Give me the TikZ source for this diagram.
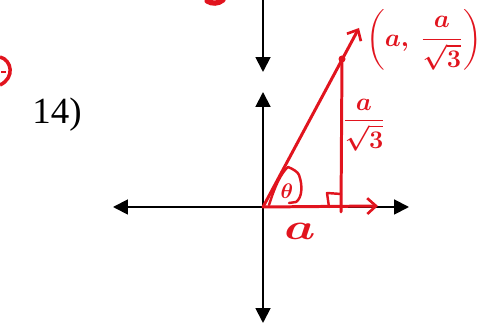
\documentclass[tikz,border=0pt]{standalone}
\usepackage{amsmath}
\usepackage{fontspec}
\setmainfont{Liberation Serif}
\usetikzlibrary{arrows.meta}
\definecolor{ink}{RGB}{225,20,30}
\begin{document}
\begin{tikzpicture}[x=0.02cm,y=-0.02cm,
  axis/.style={line width=1.1pt, black},
  tri/.tip={Triangle[length=8.5pt,width=8.5pt]},
  redline/.style={ink, line width=1.7pt, line cap=round, line join=round},
  thin red/.style={ink, line width=1.4pt, line cap=round, line join=round},
  handtext/.style={ink, inner sep=0pt},
  barb/.tip={Straight Barb[length=5pt,width=9pt,line width=1.5pt]}]
\useasboundingbox (0,0) rectangle (490,333);
% axes
\coordinate (O) at (263,207);
\coordinate (ytop) at (263,-2);
\coordinate (ydn) at (263,72);
\coordinate (yup) at (263,92);
\coordinate (ybot) at (263,323);
\coordinate (xl) at (113,207);
\coordinate (xr) at (409,207);
\draw[axis, -{tri}] (ytop) -- (ydn);
\draw[axis, {tri}-{tri}] (yup) -- (ybot);
\draw[axis, {tri}-{tri}] (xl) -- (xr);
% red triangle
\coordinate (P) at (342,59);
\coordinate (F) at (341,212);
\coordinate (Q) at (359,28);
\coordinate (R) at (378,206);
\draw[redline, -{barb}] (O) -- (Q);
\draw[redline] (P) -- (F);
\draw[redline, -{barb}] (O) -- (R);
\fill[ink] (P) circle (3.5);
% right angle mark
\draw[thin red] (341,194) -- (327,193) -- (329,207);
% theta loop
\draw[thin red] (269,205) .. controls (275,186) and (281,173) .. (288,167)
  .. controls (293,169) and (298,172) .. (299,175)
  .. controls (303,186) and (302,198) .. (296,202) -- (289,203);
\node[handtext] (th) at (287,191) {\fontsize{13}{13}\selectfont $\boldsymbol{\theta}$};
% labels
\node[handtext] (la) at (300,231) {\fontsize{22}{22}\selectfont \scalebox{1.35}[1]{$\boldsymbol{a}$}};
\node[handtext] (lv) at (364,125) {\fontsize{15}{18}\selectfont $\displaystyle\frac{\boldsymbol{a}}{\boldsymbol{\sqrt{3}}}$};
\node[handtext] (lp) at (424,40) {\fontsize{15}{18}\selectfont $\boldsymbol{\left(a,\ \displaystyle\frac{a}{\sqrt{3}}\right)}$};
\node[inner sep=0pt] (num) at (57,115) {\fontsize{21}{24}\selectfont 14)};
% fragments of neighbouring work
\draw[ink, line width=2pt] (0,57) .. controls (12,60) and (15,78) .. (0,85);
\draw[ink, line width=1.5pt] (1,72) -- (6,72);
\draw[ink, line width=3pt, line cap=round] (207,1) .. controls (212,4) and (218,4) .. (223,0);
\end{tikzpicture}
\end{document}
